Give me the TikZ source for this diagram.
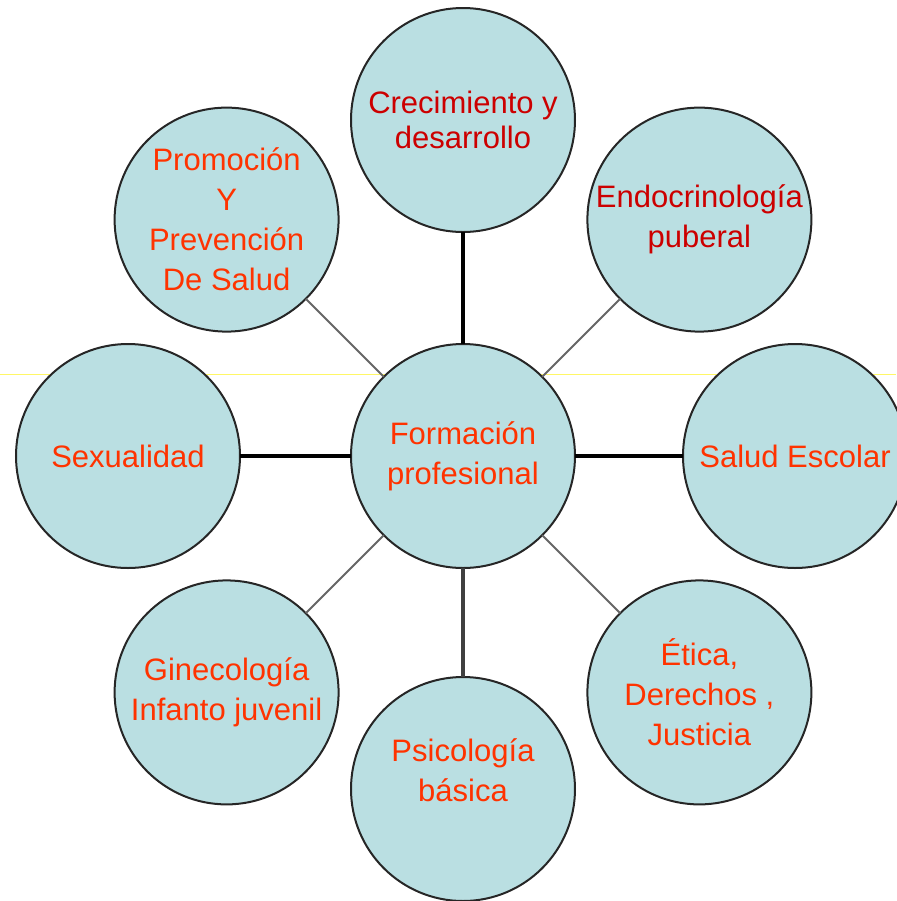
\documentclass[tikz,border=0pt]{standalone}
\usepackage{fontspec}
\setmainfont{Liberation Sans}
\usetikzlibrary{shapes,positioning}
\definecolor{bubblefill}{RGB}{186,223,226}
\definecolor{deepred}{RGB}{204,0,0}
\definecolor{flame}{RGB}{255,51,0}
\begin{document}
\begin{tikzpicture}[x=0.5pt, y=0.5pt,
		bubble/.style={circle, draw=black!85, line width=1pt, fill=bubblefill, minimum size=112pt, inner sep=0pt, outer sep=0pt, align=center, text=flame, font=\fontsize{15.5}{20}\selectfont},
		spoke/.style={line width=1.75pt, black},
		diagspoke/.style={line width=1pt, black!60},
		basespoke/.style={line width=2pt, black!75}]
				\useasboundingbox (0,0) rectangle (896,-901);
				% guide line behind the circles
				\coordinate (guideL) at (0,-374);
				\coordinate (guideR) at (896,-374);
				\draw [yellow!60, line width=0.5pt] (guideL) -- (guideR);
				
				\node [bubble] (formacion) at (463,-456) {Formación\\profesional};
				\node [bubble, text=deepred, above=56pt of formacion] (crecimiento) {Crecimiento y\\[-2.5pt]desarrollo};
				\node [bubble, above left=39pt and 39pt of formacion] (promocion) {Promoción\\Y\\Prevención\\De Salud};
				\node [bubble, text=deepred, above right=39pt and 39pt of formacion] (endocrino) {Endocrinología\\puberal};
				\node [bubble, left=55.5pt of formacion] (sexualidad) {Sexualidad};
				\node [bubble, right=54pt of formacion] (escolar) {Salud Escolar};
				\node [bubble, below left=39pt and 39pt of formacion] (gineco) {Ginecología\\Infanto juvenil};
				\node [bubble, below right=39pt and 39pt of formacion] (etica) {Ética,\\Derechos ,\\Justicia};
				\node [bubble, below=54.5pt of formacion] (psico) {Psicología\\básica\\[-1pt]\mbox{}};
				
				% spokes
				\path [spoke] (formacion) edge (crecimiento) edge (sexualidad) edge (escolar);
				\path [diagspoke] (formacion) edge (promocion) edge (endocrino) edge (gineco) edge (etica);
				\path [basespoke] (formacion) edge (psico);
			\end{tikzpicture}
\end{document}
